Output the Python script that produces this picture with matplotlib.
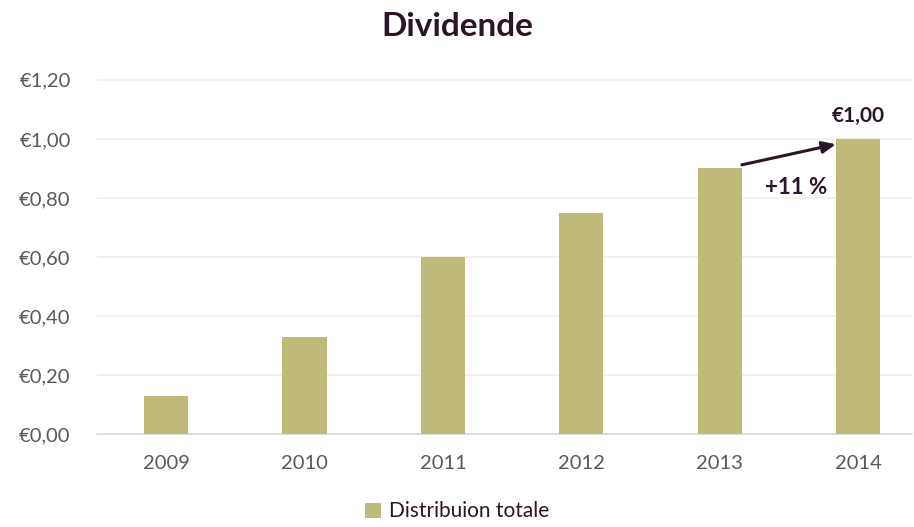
import matplotlib.pyplot as plt
from matplotlib.ticker import FuncFormatter

years = ['2009', '2010', '2011', '2012', '2013', '2014']
dividends = [0.13, 0.33, 0.60, 0.75, 0.90, 1.00]
series_name = 'Distribuion totale'

bar_color = '#BFBA7A'
dark = '#2B1628'
grey = '#595959'

plt.rcParams['font.family'] = ['Lato', 'DejaVu Sans']

fig = plt.figure(figsize=(9.14, 5.27), dpi=100)
ax = fig.add_axes([97 / 914, 1 - 434 / 527, (912 - 97) / 914, (434 - 66) / 527])

x = list(range(len(years)))
ax.bar(x, dividends, width=0.32, color=bar_color, label=series_name, zorder=3)

ax.set_xlim(-0.5, 5.39)
ax.set_ylim(0, 1.247)
ax.set_yticks([0, 0.2, 0.4, 0.6, 0.8, 1.0, 1.2])
ax.yaxis.set_major_formatter(FuncFormatter(lambda v, p: '€' + f'{v:.2f}'.replace('.', ',')))
ax.set_xticks(x)
ax.set_xticklabels(years)
ax.tick_params(axis='both', length=0, labelsize=14.5, colors=grey)
ax.tick_params(axis='x', pad=15)
ax.tick_params(axis='y', pad=19)
ax.grid(axis='y', color='#F2F0E2', linewidth=1.2, zorder=0)
for s in ['top', 'right', 'left']:
    ax.spines[s].set_visible(False)
ax.spines['bottom'].set_color('#D9D9D9')
ax.spines['bottom'].set_linewidth(1.2)

fig.text(0.5, 1 - 27 / 527, 'Dividende', ha='center', va='center',
         fontsize=24, fontweight='bold', color=dark)

# annotations
ax.text(5, 1.045, '€1,00', ha='center', va='bottom', fontsize=15,
        fontweight='bold', color=dark)
ax.annotate('', xy=(4.84, 0.982), xytext=(4.16, 0.912),
            arrowprops=dict(arrowstyle='-|>,head_length=0.8,head_width=0.35',
                            color=dark, lw=2.2, shrinkA=0, shrinkB=0))
ax.text(4.55, 0.835, '+11 %', ha='center', va='center', fontsize=16,
        fontweight='bold', color=dark)

fig.legend(loc='lower center', bbox_to_anchor=(0.5, -0.025), frameon=False,
           fontsize=15, handlelength=0.75, handleheight=0.75, handletextpad=0.4,
           labelcolor=dark)

fig.savefig('out.png', dpi=100)
